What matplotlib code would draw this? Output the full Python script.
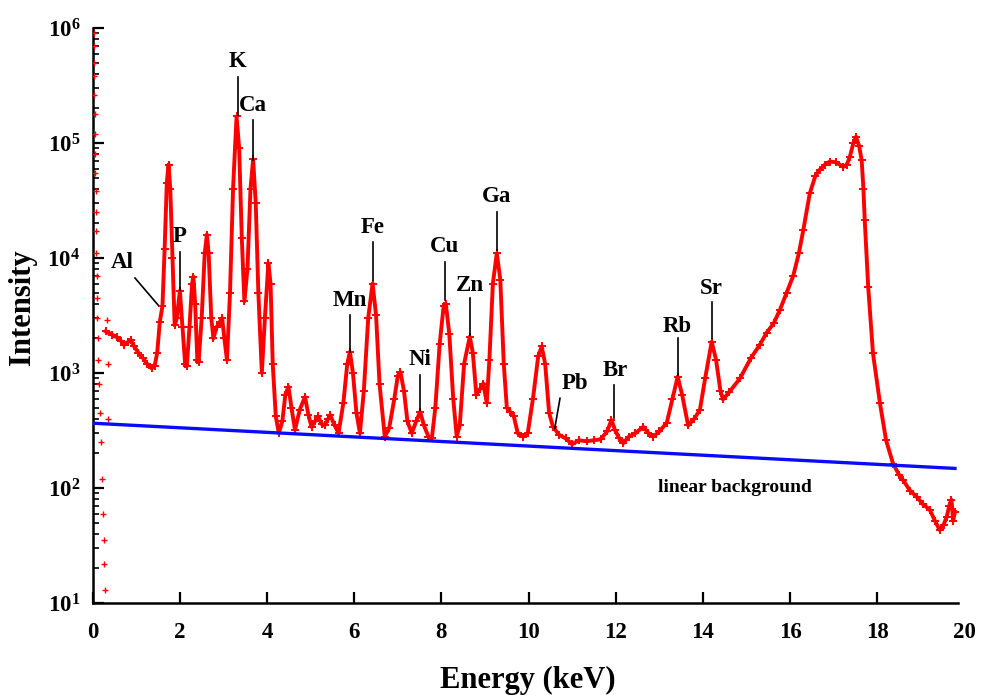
import math
import matplotlib
matplotlib.use("Agg")
import matplotlib.pyplot as plt
from matplotlib.ticker import LogLocator, FuncFormatter, NullFormatter

plt.rcParams['font.family'] = ['Liberation Serif', 'DejaVu Serif']
plt.rcParams['font.weight'] = 'bold'
plt.rcParams['mathtext.fontset'] = 'custom'
plt.rcParams['mathtext.rm'] = 'Liberation Serif:bold'
plt.rcParams['mathtext.bf'] = 'Liberation Serif:bold'
plt.rcParams['mathtext.it'] = 'Liberation Serif:bold'

# ---------------- data ----------------
# low-energy edge scatter (markers only)
edge_energy = [0.02, 0.03, 0.03, 0.04, 0.04, 0.05, 0.05, 0.06, 0.06, 0.07, 0.07, 0.08,
               0.08, 0.09, 0.10, 0.11, 0.12, 0.13, 0.15, 0.17, 0.19, 0.21, 0.23, 0.25,
               0.27, 0.29, 0.33, 0.34, 0.35]
edge_counts = [9.0e5, 7.0e5, 5.0e5, 3.8e5, 2.6e5, 1.8e5, 1.2e5, 8.0e4, 5.5e4, 3.8e4, 2.5e4,
               1.7e4, 1.1e4, 7.0e3, 4.5e3, 3.0e3, 2.0e3, 1.3e3, 800, 450, 250, 120, 60,
               35, 22, 13, 2900, 400, 1200]

# main spectrum
energy = [0.30, 0.45, 0.55, 0.65, 0.72, 0.80, 0.87, 0.95, 1.05, 1.15, 1.25, 1.35, 1.42,
          1.48, 1.54, 1.60, 1.65, 1.70, 1.74, 1.78, 1.83, 1.88, 1.93, 2.00, 2.06, 2.12,
          2.16, 2.22, 2.28, 2.31, 2.35, 2.40, 2.43, 2.50, 2.57, 2.62, 2.66, 2.72, 2.77,
          2.84, 2.92, 2.97, 3.02, 3.08, 3.15, 3.22, 3.30, 3.36, 3.42, 3.48, 3.55, 3.62,
          3.68, 3.74, 3.80, 3.88, 3.95, 4.03, 4.08, 4.13, 4.20, 4.27, 4.35, 4.42, 4.49,
          4.56, 4.64, 4.75, 4.87, 4.95, 5.02, 5.10, 5.17, 5.25, 5.32, 5.40, 5.45, 5.55,
          5.64, 5.75, 5.84, 5.90, 5.97, 6.05, 6.13, 6.22, 6.32, 6.42, 6.50, 6.58, 6.70,
          6.80, 6.92, 7.00, 7.06, 7.14, 7.22, 7.32, 7.42, 7.51, 7.60, 7.70, 7.78, 7.86,
          7.96, 8.05, 8.10, 8.18, 8.27, 8.35, 8.42, 8.52, 8.65, 8.72, 8.80, 8.88, 8.96,
          9.04, 9.10, 9.18, 9.27, 9.35, 9.43, 9.50, 9.58, 9.66, 9.75, 9.88, 9.98, 10.10,
          10.22, 10.30, 10.38, 10.47, 10.56, 10.70, 10.85, 11.00, 11.15, 11.33, 11.50,
          11.65, 11.80, 11.90, 11.98, 12.08, 12.17, 12.30, 12.45, 12.63, 12.75, 12.86,
          13.00, 13.17, 13.30, 13.42, 13.52, 13.66, 13.80, 13.93, 14.05, 14.20, 14.30,
          14.40, 14.46, 14.60, 14.85, 15.10, 15.30, 15.46, 15.62, 15.76, 15.92, 16.07,
          16.20, 16.30, 16.45, 16.58, 16.68, 16.80, 16.91, 17.05, 17.22, 17.30, 17.37,
          17.45, 17.51, 17.58, 17.64, 17.68, 17.71, 17.79, 17.90, 18.06, 18.20, 18.36,
          18.50, 18.59, 18.75, 18.90, 19.05, 19.20, 19.32, 19.43, 19.52, 19.59, 19.65,
          19.70, 19.74, 19.78]
counts = [2300, 2150, 2050, 1900, 1750, 1850, 1950, 1700, 1500, 1350, 1200, 1100, 1150,
          1500, 2800, 3800, 12000, 45000, 65000, 40000, 10000, 2600, 3000, 5200, 2500, 1200,
          1150, 2500, 6000, 6900, 4000, 1300, 1250, 3000, 11000, 16000, 11000, 3000, 2000,
          2500, 2800, 3000, 2000, 1300, 5000, 40000, 170000, 90000, 15000, 4200, 8000, 40000,
          72000, 30000, 5000, 1000, 3000, 9000, 6000, 1200, 420, 300, 380, 650, 760,
          500, 320, 480, 620, 430, 340, 380, 420, 360, 350, 400, 430, 350,
          300, 550, 1200, 1530, 1000, 450, 300, 700, 3000, 6000, 3200, 800, 280,
          330, 600, 950, 1020, 700, 380, 300, 380, 460, 350, 280, 270, 500,
          1800, 3800, 4000, 2200, 600, 280, 350, 1200, 2070, 1500, 650, 720, 810,
          550, 1300, 6000, 11000, 6500, 1200, 500, 460, 420, 300, 280, 300, 600,
          1400, 1700, 1200, 450, 340, 290, 270, 240, 260, 255, 260,
          265, 310, 390, 320, 270, 245, 280, 300, 340, 300, 280,
          310, 370, 600, 930, 650, 350, 400, 480, 900, 1870, 1300,
          700, 590, 680, 900, 1350, 1750, 2240, 2700, 3500, 5000, 7000,
          11000, 17400, 36500, 52000, 58600, 65000, 69000, 68000, 62000, 65000, 76000,
          100000, 113000, 95000, 71000, 40000, 21500, 5600, 1480, 545, 260, 163,
          130, 117, 95, 84, 72, 65, 52, 43, 48, 56, 70,
          79, 52, 62]

# linear background end points
bg_energy = [0.0, 19.78]
bg_counts = [366, 148]

# peak labels: name, energy, text intensity, leader line top / bottom
peak_names = ['Al', 'P', 'K', 'Ca', 'Mn', 'Fe', 'Ni', 'Cu', 'Zn', 'Ga', 'Pb', 'Br', 'Rb', 'Sr']
text_energy = [0.68, 2.00, 3.33, 3.68, 5.90, 6.42, 7.51, 8.08, 8.65, 9.27, 11.06, 11.98, 13.42, 14.20]
text_counts = [9060, 15300, 509000, 214000, 4300, 18500, 1300, 12500, 5820, 34100, 813, 1060, 2530, 5460]
line_e0 = [0.97, 2.00, 3.33, 3.68, 5.90, 6.42, 7.51, 8.08, 8.65, 9.27, 10.72, 11.96, 13.42, 14.20]
line_e1 = [1.50, 2.00, 3.33, 3.68, 5.90, 6.42, 7.51, 8.08, 8.65, 9.27, 10.60, 11.96, 13.42, 14.20]
line_top = [6700, 11350, 378000, 158000, 3200, 13900, 960, 9300, 4460, 25300, 603, 787, 2000, 4170]
line_bot = [3900, 5270, 175000, 71000, 1530, 6460, 476, 4300, 2140, 11700, 330, 404, 960, 2000]

x_ticks = [0, 2, 4, 6, 8, 10, 12, 14, 16, 18]

# ---------------- figure ----------------
W, H = 982, 695
fig = plt.figure(figsize=(W / 100, H / 100), dpi=100)
ax = fig.add_axes([92.7 / W, 1 - 603 / H, (958 - 92.7) / W, (603 - 28) / H])

red = '#ff0000'
ax.plot(energy, counts, color=red, lw=2.8, marker='+', ms=6, mew=1.4, zorder=3)
ax.plot(edge_energy, edge_counts, ls='none', color=red, marker='+', ms=4, mew=1.0, zorder=3)
ax.plot(bg_energy, bg_counts, color='#0a0aff', lw=2.4, zorder=4)

for n, te, tc, e0, e1, lt, lb in zip(peak_names, text_energy, text_counts,
                                      line_e0, line_e1, line_top, line_bot):
    ax.text(te, tc, n, ha='center', va='center', fontsize=16.5, fontweight='bold', zorder=5)
    ax.plot([e0, e1], [lt, lb], color='black', lw=1.2, zorder=5)

ax.text(14.73, 102, 'linear background', ha='center', va='center', fontsize=14,
        fontweight='bold')

ax.set_yscale('log')
ax.set_ylim(10, 1e6)
ax.set_xlim(0, 19.85)
ax.set_xticks(x_ticks)
ax.yaxis.set_major_locator(LogLocator(base=10, numticks=10))
ax.yaxis.set_minor_locator(LogLocator(base=10, subs=range(2, 10), numticks=20))
ax.yaxis.set_minor_formatter(NullFormatter())
ax.yaxis.set_major_formatter(FuncFormatter(lambda v, p: r'$\mathbf{10^{%d}}$' % round(math.log10(v))))

for s in ['top', 'right']:
    ax.spines[s].set_visible(False)
for s in ['left', 'bottom']:
    ax.spines[s].set_linewidth(1.8)

xpad = 14
ax.tick_params(axis='x', which='major', direction='in', length=8, width=1.6,
               labelsize=16.5, pad=xpad)
ax.tick_params(axis='y', which='major', direction='in', length=8, width=1.6,
               labelsize=16.5, pad=9)
ax.tick_params(axis='y', which='minor', direction='in', length=4.5, width=1.2)
for lab in ax.get_xticklabels() + ax.get_yticklabels():
    lab.set_fontweight('bold')

ax.annotate('20', xy=(20, 0), xycoords=('data', 'axes fraction'), xytext=(0, -xpad),
            textcoords='offset points', ha='center', va='top', fontsize=16.5,
            fontweight='bold', annotation_clip=False)

fig.text(23 / W, 1 - 307 / H, 'Intensity', rotation=90, ha='center', va='center',
         fontsize=22, fontweight='bold')
fig.text(528 / W, 1 - 666 / H, 'Energy (keV)', ha='center', va='top',
         fontsize=22, fontweight='bold')

fig.savefig('out.png', dpi=100)
